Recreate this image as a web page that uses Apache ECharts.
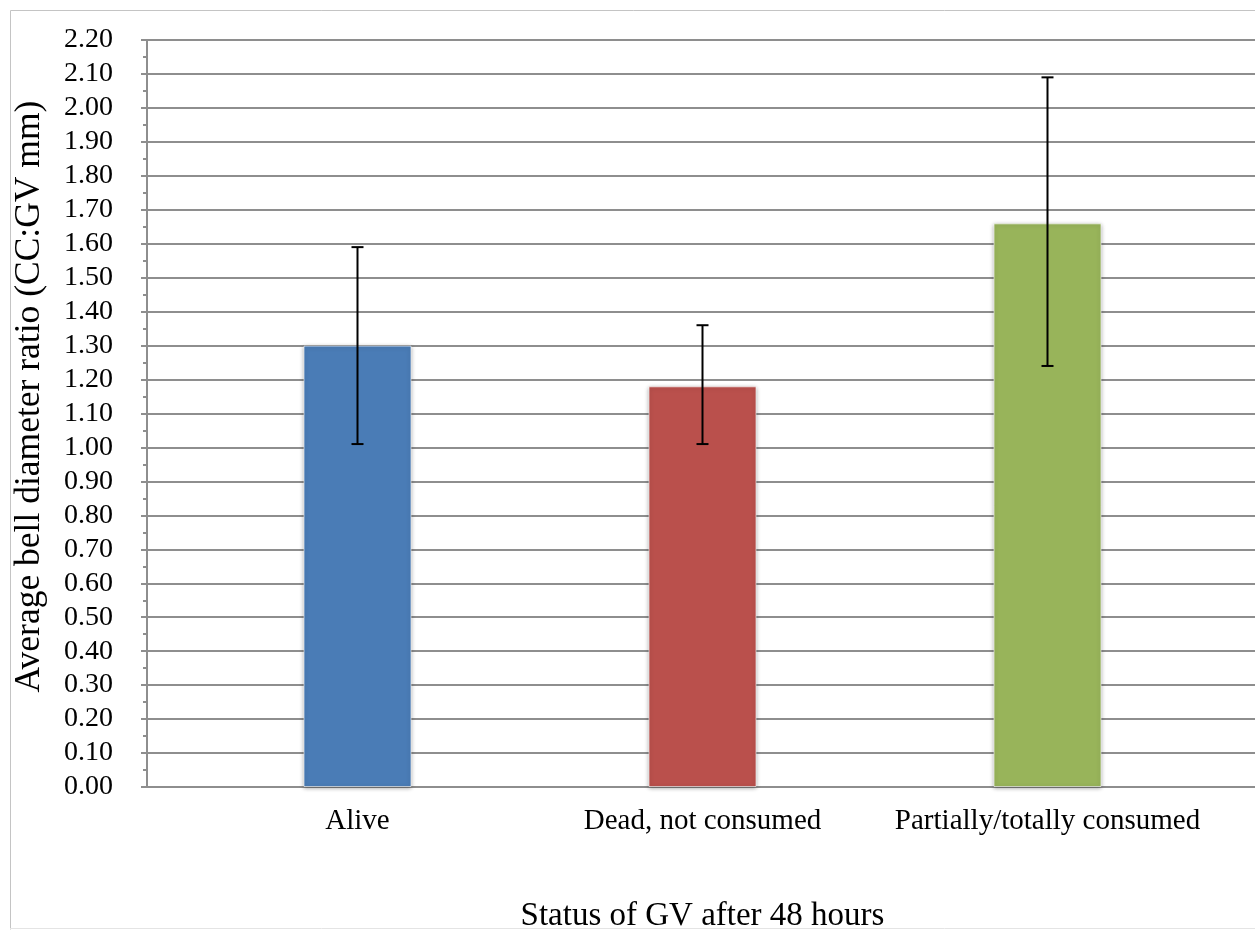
<!DOCTYPE html>
<html>
<head>
<meta charset="utf-8">
<script src="https://cdn.jsdelivr.net/npm/echarts@6/dist/echarts.min.js"></script>
<style>
html,body{margin:0;padding:0;background:#fff;}
#chart{width:1255px;height:930px;}
</style>
</head>
<body>
<div id="chart"></div>
<script>
// ---- data ----
const categories = ['Alive', 'Dead, not consumed', 'Partially/totally consumed'];
const means = [1.30, 1.18, 1.66];
const errLow = [1.01, 1.01, 1.24];
const errHigh = [1.59, 1.36, 2.09];
const barColors = ['#4A7CB6', '#BA504C', '#98B45A'];
const yTitle = 'Average bell diameter ratio (CC:GV mm)';
const xTitle = 'Status of GV after 48 hours';

const FONT = '"Liberation Serif", "Times New Roman", serif';
const GRID_C = '#8e8e8e';

const chart = echarts.init(document.getElementById('chart'));

const errData = categories.map((c, i) => [i, errLow[i], errHigh[i]]);

const option = {
  backgroundColor: '#fff',
  animation: false,
  graphic: [{
    type: 'polyline',
    shape: { points: [[10.5, 929.5], [10.5, 10.5], [1260, 10.5]] },
    style: { stroke: '#c4c4c4', lineWidth: 1, fill: null },
    z: -1
  }, {
    type: 'line',
    shape: { x1: 10, y1: 928.5, x2: 1260, y2: 928.5 },
    style: { stroke: '#e4e4e4', lineWidth: 1 },
    z: -1
  }],
  grid: [
    { left: 147, top: 40, right: 0, bottom: 143, outerBoundsMode: 'none', containLabel: false },
    { left: 185, top: 40, width: 1035, bottom: 143, outerBoundsMode: 'none', containLabel: false }
  ],
  xAxis: [{
    gridIndex: 0,
    type: 'category',
    data: [''],
    axisLine: { show: true, lineStyle: { color: GRID_C, width: 2 } },
    axisTick: { show: false },
    axisLabel: { show: false },
    splitLine: { show: false }
  }, {
    gridIndex: 1,
    type: 'category',
    data: categories,
    axisLine: { show: false },
    axisTick: { show: false },
    axisLabel: { color: '#000', fontFamily: FONT, fontSize: 29, margin: 20, interval: 0 },
    name: xTitle,
    nameLocation: 'middle',
    nameGap: 113,
    nameTextStyle: { color: '#000', fontFamily: FONT, fontSize: 33 }
  }],
  yAxis: [{
    gridIndex: 0,
    type: 'value',
    min: 0, max: 2.2, interval: 0.1,
    axisLine: { show: true, lineStyle: { color: GRID_C, width: 2 } },
    axisTick: { show: true, length: 6, lineStyle: { color: GRID_C, width: 2 } },
    minorTick: { show: true, splitNumber: 2, length: 4, lineStyle: { color: GRID_C, width: 2 } },
    splitLine: { show: true, lineStyle: { color: GRID_C, width: 2 } },
    axisLabel: {
      color: '#000', fontFamily: FONT, fontSize: 28, margin: 34,
      formatter: v => v.toFixed(2)
    },
    name: yTitle,
    nameLocation: 'middle',
    nameRotate: 90,
    nameGap: 99,
    nameTextStyle: { color: '#000', fontFamily: FONT, fontSize: 35.5, padding: [0, 0, 0, 34] }
  }, {
    gridIndex: 1,
    type: 'value',
    min: 0, max: 2.2, interval: 0.1,
    show: false,
    splitLine: { show: false }
  }],
  series: [{
    type: 'bar',
    xAxisIndex: 1, yAxisIndex: 1,
    barWidth: 108,
    data: means.map((v, i) => ({
      value: v,
      itemStyle: {
        color: barColors[i],
        borderColor: 'rgba(255,255,255,0.6)', borderWidth: 1,
        shadowBlur: 4, shadowColor: 'rgba(0,0,0,0.35)', shadowOffsetY: 1
      }
    })),
    z: 3
  }, {
    type: 'custom',
    xAxisIndex: 1, yAxisIndex: 1,
    data: errData,
    z: 5,
    renderItem: function (params, api) {
      const x = api.coord([api.value(0), 0])[0];
      const lo = api.coord([api.value(0), api.value(1)])[1];
      const hi = api.coord([api.value(0), api.value(2)])[1];
      const half = 6;
      const st = { stroke: '#000', lineWidth: 2 };
      return {
        type: 'group',
        children: [
          { type: 'line', shape: { x1: x, y1: hi, x2: x, y2: lo }, style: st },
          { type: 'line', shape: { x1: x - half, y1: hi, x2: x + half, y2: hi }, style: st },
          { type: 'line', shape: { x1: x - half, y1: lo, x2: x + half, y2: lo }, style: st }
        ]
      };
    }
  }]
};
chart.setOption(option);
</script>
</body>
</html>
